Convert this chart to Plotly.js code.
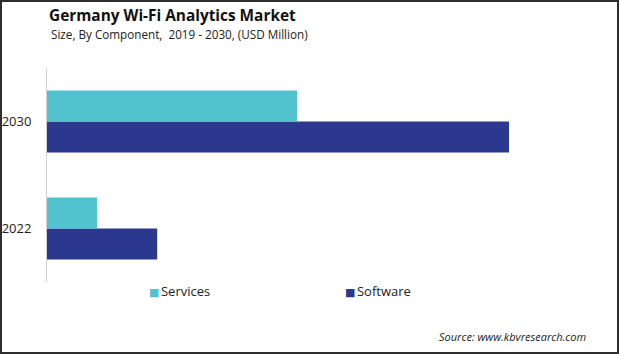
<!DOCTYPE html>
<html>
<head>
<meta charset="utf-8">
<script src="https://cdn.plot.ly/plotly-3.0.1.min.js"></script>
<style>
html,body{margin:0;padding:0;background:#fff;}
#wrap{position:relative;width:619px;height:354px;}
#chart{width:619px;height:354px;}
#frame{position:absolute;left:0;top:0;width:619px;height:354px;box-sizing:border-box;border:2px solid #2e2e2e;pointer-events:none;}
</style>
</head>
<body>
<div id="wrap"><div id="chart"></div><div id="frame"></div></div>
<script>
const years = ['2022', '2030'];
const services = [129.5, 648.4];
const software = [285.5, 1197];
const seriesNames = ['Services', 'Software'];
const colors = ['#52C3CE', '#2B388E'];
const labelTexts = ['648.4 Mn', '285.50 Mn'];

const font = 'Open Sans, sans-serif';

const traces = [
  {type:'bar', orientation:'h', name: seriesNames[1], y: years, x: software,
   marker:{color: colors[1]}},
  {type:'bar', orientation:'h', name: seriesNames[0], y: years, x: services,
   marker:{color: colors[0]}}
];

// legend drawn as text entries (small square + name), positions in paper units
const legendX = [(147 - 47)/550, (343 - 47)/550];
const legendAnns = seriesNames.map((n, i) => ({
  xref: 'paper', yref: 'paper', x: legendX[i], y: (282 - 291)/214,
  xanchor: 'left', yanchor: 'middle', showarrow: false,
  text: '<span style="color:' + colors[i] + ';font-family:DejaVu Sans;font-size:11px">■</span>' +
        '<span style="font-size:6px"> </span>' + n,
  font: {family: font, size: 13, color: '#222'}
}));

const layout = {
  width: 619, height: 354,
  margin: {l: 47, r: 22, t: 68, b: 72},
  paper_bgcolor: '#fff', plot_bgcolor: '#fff',
  barmode: 'group', bargap: 0.42,
  font: {family: font, color: '#222', size: 13},
  title: {text: '<b>Germany Wi-Fi Analytics Market</b>', x: 49/619, xanchor: 'left',
          y: 1 - 16/354, yanchor: 'middle', font: {family: font, size: 15.4, color: '#111'}},
  xaxis: {range: [0, 1425], showticklabels: false, showgrid: false, zeroline: false, showline: false, ticks: ''},
  yaxis: {type: 'category', range: [-0.5, 1.5],
          showline: true, linecolor: '#d0d0d0', linewidth: 1, showgrid: false,
          zeroline: false, ticks: 'outside', ticklen: 12, tickcolor: 'rgba(0,0,0,0)',
          tickfont: {family: font, size: 13, color: '#222'}},
  showlegend: false,
  annotations: [
    {xref: 'x', yref: 'y', x: services[1], y: years[1], text: labelTexts[0], showarrow: false,
     xanchor: 'left', yanchor: 'middle', xshift: 25, yshift: 13, font: {family: font, size: 13, color: '#222'}},
    {xref: 'x', yref: 'y', x: software[0], y: years[0], text: labelTexts[1], showarrow: false,
     xanchor: 'left', yanchor: 'middle', xshift: 22, yshift: -15, font: {family: font, size: 13, color: '#222'}},
    {xref: 'paper', yref: 'paper', x: 2/550, y: (282 - 34)/214, text: 'Size, By Component,  2019 - 2030, (USD Million)',
     showarrow: false, xanchor: 'left', yanchor: 'middle', font: {family: font, size: 11.7, color: '#222'}},
    {xref: 'paper', yref: 'paper', x: (588 - 47)/550, y: (282 - 336)/214, text: '<i>Source: www.kbvresearch.com</i>',
     showarrow: false, xanchor: 'right', yanchor: 'middle', font: {family: font, size: 11, color: '#222'}}
  ].concat(legendAnns)
};

Plotly.newPlot('chart', traces, layout, {displayModeBar: false, staticPlot: true});
</script>
</body>
</html>
